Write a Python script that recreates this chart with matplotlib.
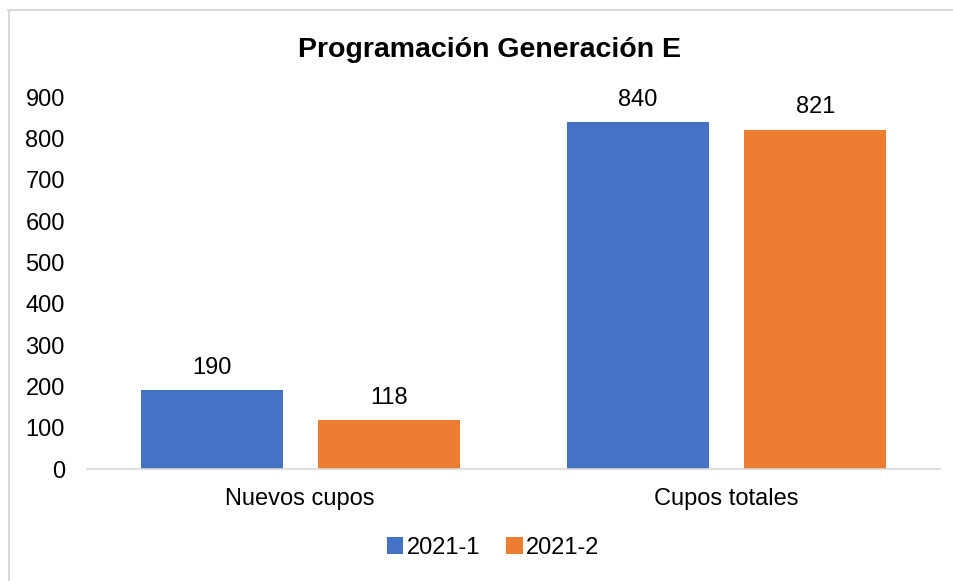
import matplotlib
matplotlib.use("Agg")
import matplotlib.pyplot as plt
import numpy as np
from matplotlib.lines import Line2D

categories = ["Nuevos cupos", "Cupos totales"]
series_names = ["2021-1", "2021-2"]
values_2021_1 = [190, 840]
values_2021_2 = [118, 821]
yticks = [0, 100, 200, 300, 400, 500, 600, 700, 800, 900]

plt.rcParams['font.family'] = ['Liberation Sans', 'DejaVu Sans']
FS = 17

fig = plt.figure(figsize=(9.54, 5.81), dpi=100)
ax = fig.add_axes([87/954, 1-469/581, (940-87)/954, (469-97)/581])

x = np.arange(len(categories))
w = 0.333
off = 0.208
colors = ["#4472C4", "#ED7D31"]
b1 = ax.bar(x - off, values_2021_1, w, color=colors[0], label=series_names[0])
b2 = ax.bar(x + off, values_2021_2, w, color=colors[1], label=series_names[1])

for bars, vals in ((b1, values_2021_1), (b2, values_2021_2)):
    for rect, v in zip(bars, vals):
        ax.annotate(f"{v}", (rect.get_x() + rect.get_width()/2, v),
                    xytext=(0, 16), textcoords="offset points",
                    ha="center", va="center", fontsize=FS, color="#000000")

ax.set_xlim(-0.5, 1.5)
ax.set_ylim(0, 900)
ax.set_yticks(yticks)
ax.set_xticks(x)
ax.set_xticklabels(categories, fontsize=FS)
ax.tick_params(axis='y', labelsize=FS, length=0, pad=16)
ax.tick_params(axis='x', length=0, pad=14)
for s in ["top", "right", "left"]:
    ax.spines[s].set_visible(False)
ax.spines["bottom"].set_color("#D9D9D9")
ax.spines["bottom"].set_linewidth(1.2)

fig.text(490/954, 1-50/581, "Programación Generación E", ha="center", va="center",
         fontsize=20.5, fontweight="bold")

leg = fig.legend(handles=[b1, b2], labels=series_names, loc="center",
                 bbox_to_anchor=(493/954, 1-548/581), ncol=2, frameon=False,
                 fontsize=FS, handlelength=0.7, handleheight=0.7,
                 handletextpad=0.15, columnspacing=1.1)

# figure border (top and left visible)
fig.add_artist(Line2D([8/954, 1], [1-10/581, 1-10/581], color="#D9D9D9", lw=1.5))
fig.add_artist(Line2D([9/954, 9/954], [0, 1-10/581], color="#D9D9D9", lw=1.5))

fig.savefig("out.png", dpi=100)
